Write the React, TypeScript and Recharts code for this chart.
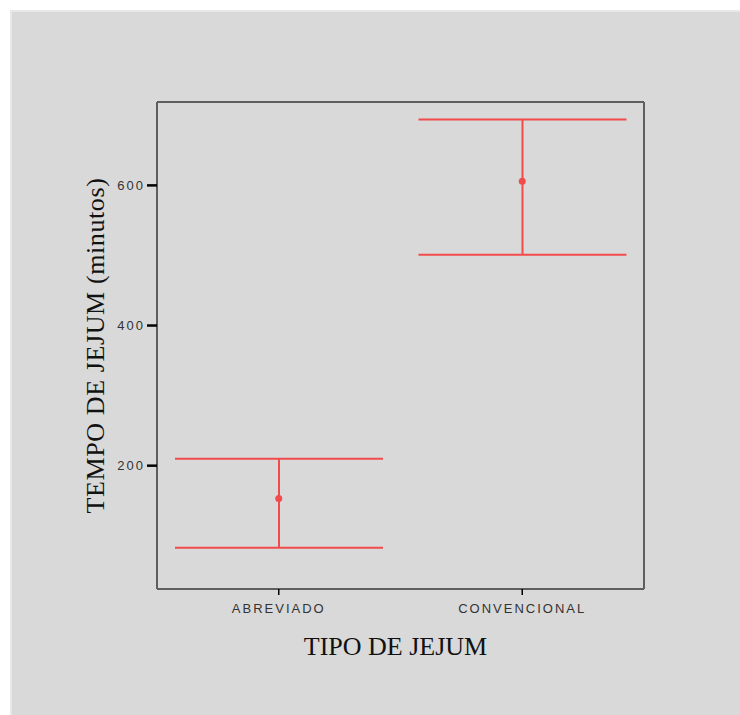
import {
  ComposedChart, Bar, Line, XAxis, YAxis, CartesianGrid,
} from 'recharts'

const categories = ['ABREVIADO', 'CONVENCIONAL']
const lowerValues = [83, 501]
const meanValues = [153, 606]
const upperValues = [210, 694]
const yTicks = [200, 400, 600]
const yDomain = [24, 719]

const RED = '#f24b4b'

const data = categories.map((name, i) => ({
  name,
  range: [lowerValues[i], upperValues[i]],
  mean: meanValues[i],
}))

// I-beam error bar drawn inside the box recharts computes for the range bar
function ErrorShape(props: any) {
  const { x, y, width, height } = props
  const cx = x + width / 2
  return (
    <g stroke={RED} strokeWidth={2}>
      <line x1={x} y1={y} x2={x + width} y2={y} />
      <line x1={x} y1={y + height} x2={x + width} y2={y + height} />
      <line x1={cx} y1={y} x2={cx} y2={y + height} />
    </g>
  )
}

// frame: grid lines only at the plot edges
const edgesH = ({ offset }: any) => [offset.top, offset.top + offset.height]
const edgesV = ({ offset }: any) => [offset.left, offset.left + offset.width]

const tickFont = {
  fontFamily: '"Liberation Sans", Arial, sans-serif',
  fontSize: 13,
  fill: '#333',
  letterSpacing: 2,
}

const labelFont = {
  fontFamily: '"Liberation Serif", "Times New Roman", serif',
  fontSize: 26,
  fill: '#111',
}

export default function App() {
  return (
    <div style={{ position: 'absolute', left: 0, top: 0, width: 740, height: 715, background: '#fff', overflow: 'hidden' }}>
      <div
        style={{
          position: 'absolute', left: 10, top: 10, width: 730, height: 705,
          background: '#d9d9d9', borderLeft: '2px solid #e8e8e8', borderTop: '2px solid #e8e8e8',
          boxSizing: 'border-box',
        }}
      >
        <ComposedChart
          width={728}
          height={703}
          data={data}
          margin={{ top: 90, right: 96, bottom: 56, left: 65 }}
        >
          <CartesianGrid
            stroke="#5e5e5e"
            strokeWidth={2}
            fill="none"
            horizontalCoordinatesGenerator={edgesH}
            verticalCoordinatesGenerator={edgesV}
          />
          <XAxis
            dataKey="name"
            axisLine={false}
            tickLine={{ stroke: '#000', strokeWidth: 1.5 }}
            tickSize={6}
            tickMargin={9}
            height={70}
            tick={tickFont}
            label={{ value: 'TIPO DE JEJUM', position: 'insideBottom', offset: 4, dx: -5, style: labelFont }}
          />
          <YAxis
            type="number"
            domain={yDomain}
            ticks={yTicks}
            allowDataOverflow
            axisLine={false}
            tickLine={{ stroke: '#000', strokeWidth: 2.5 }}
            tickSize={10}
            tickMargin={2}
            width={80}
            tick={tickFont}
            label={{ value: 'TEMPO DE JEJUM (minutos)', angle: -90, position: 'insideLeft', offset: 18, style: { ...labelFont, textAnchor: 'middle', letterSpacing: 0.6 } }}
          />
          <Bar dataKey="range" barSize={208} shape={<ErrorShape />} isAnimationActive={false} />
          <Line
            dataKey="mean"
            stroke="none"
            dot={{ r: 3.5, fill: RED, stroke: RED, strokeWidth: 0 }}
            activeDot={false}
            isAnimationActive={false}
          />
        </ComposedChart>
      </div>
    </div>
  )
}
